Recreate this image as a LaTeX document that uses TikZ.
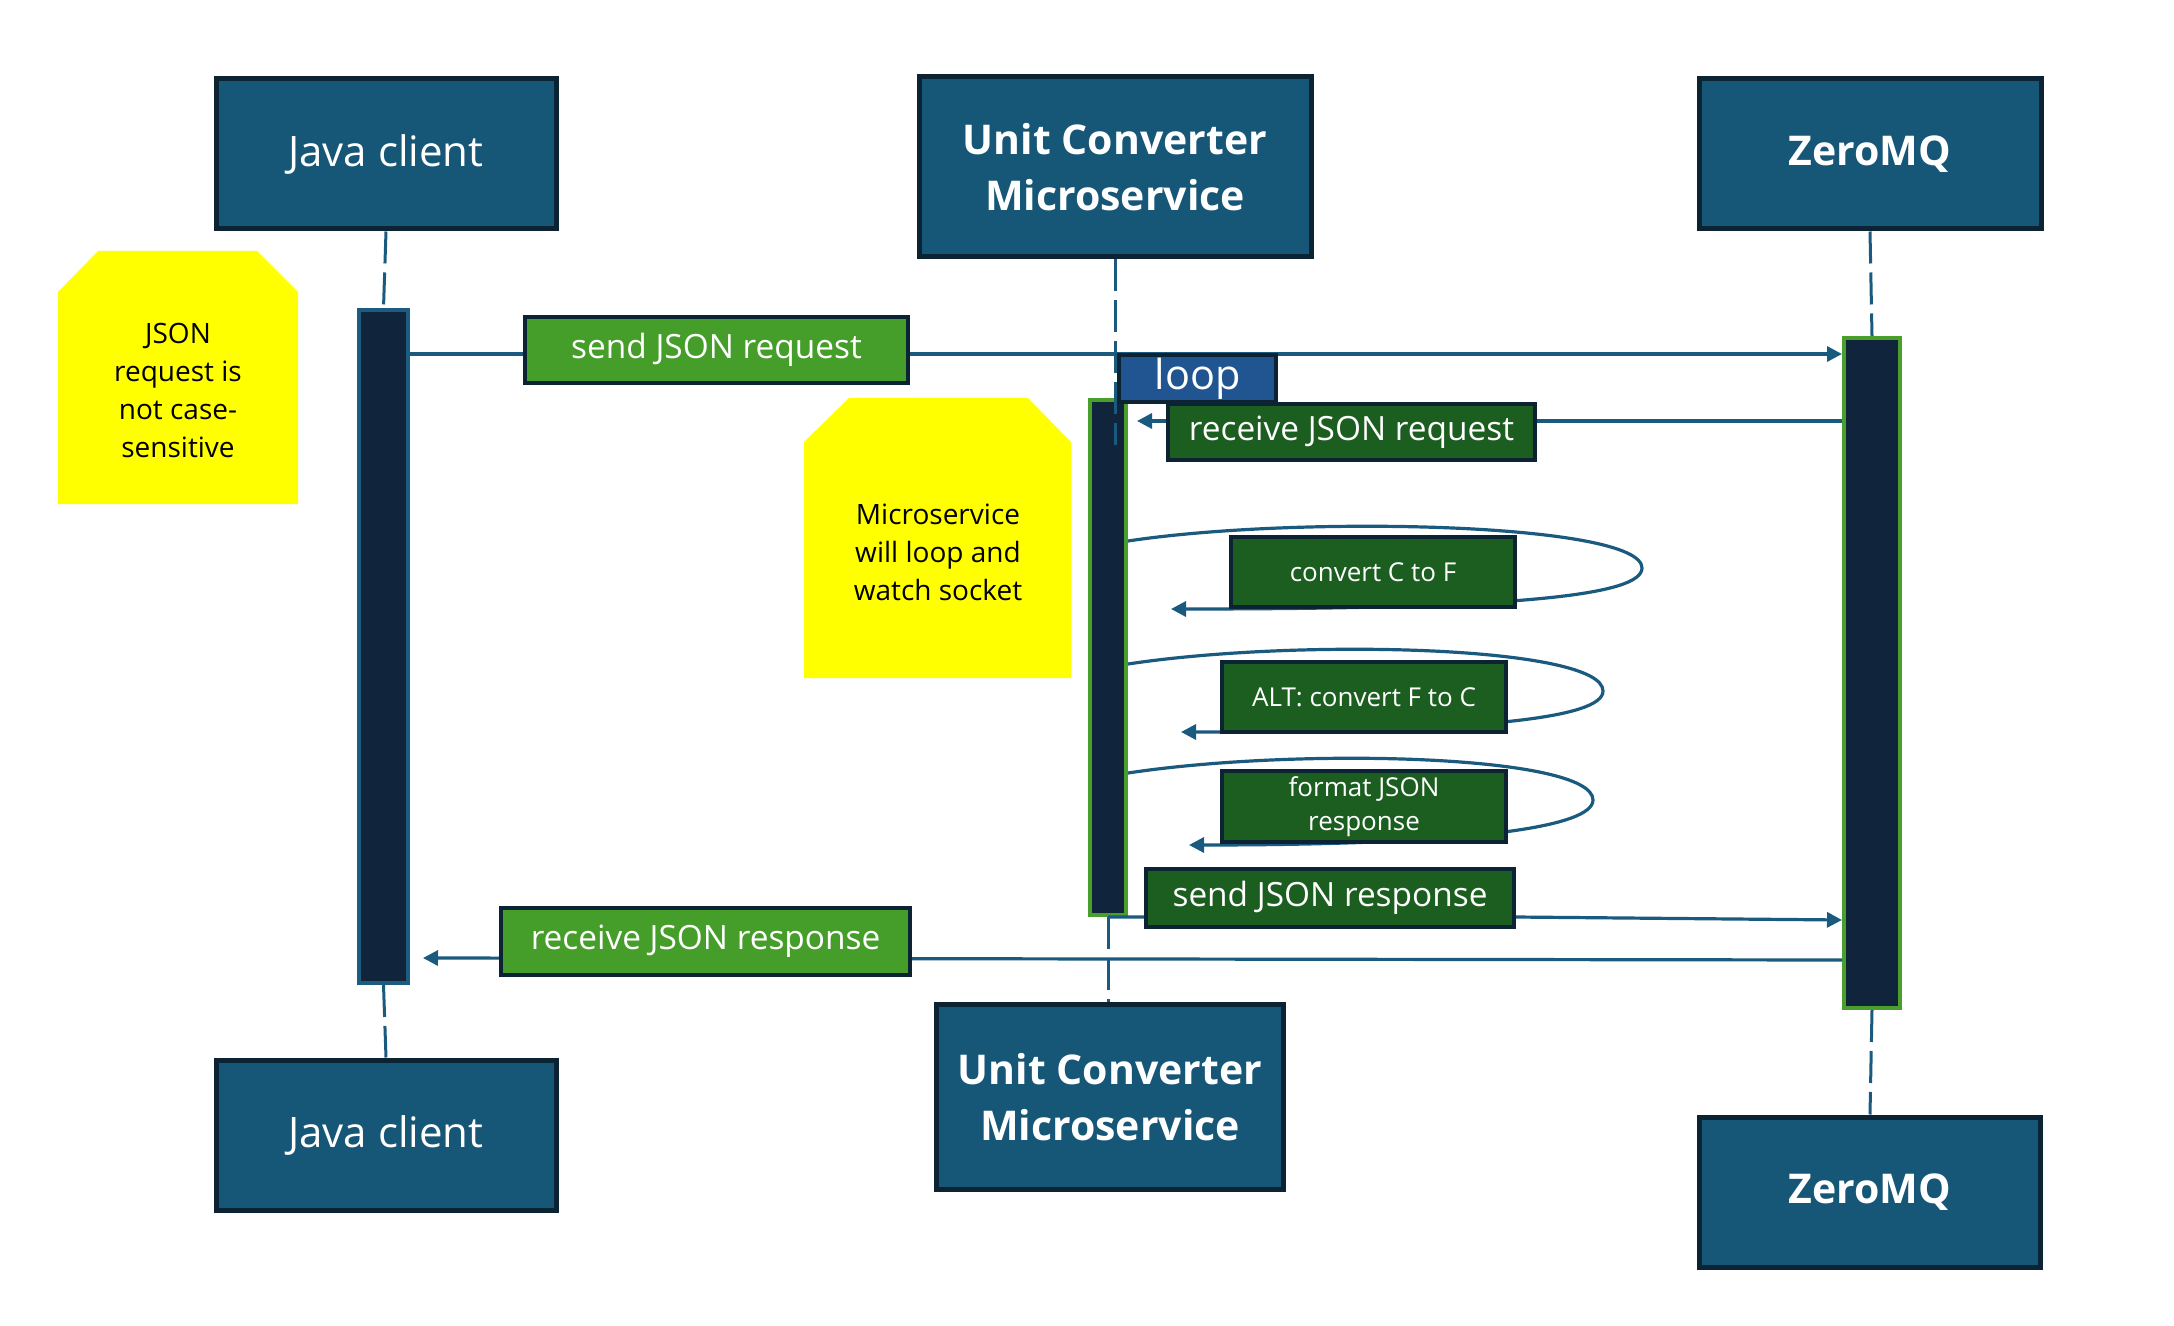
\documentclass[tikz,border=0pt]{standalone}
\usepackage{fontspec}
\setmainfont{Open Sans}
\usetikzlibrary{arrows.meta}
\definecolor{actorblue}{HTML}{165676}
\definecolor{actorline}{HTML}{0C2333}
\definecolor{barfill}{HTML}{10253C}
\definecolor{bargreen}{HTML}{4A9E2C}
\definecolor{barblue}{HTML}{1D5B80}
\definecolor{lightgreen}{HTML}{469E2A}
\definecolor{darkgreen}{HTML}{1B5E20}
\definecolor{loopblue}{HTML}{205592}
\definecolor{msgblue}{HTML}{1A5A7E}
\definecolor{noteyellow}{HTML}{FFFF00}
\tikzset{
  actor/.style={draw=actorline, line width=2.5pt, fill=actorblue, text=white,
    align=center, inner sep=0pt, font=\fontsize{21}{28}\selectfont},
  boldactor/.style={actor, font=\fontsize{20.5}{28}\selectfont\bfseries},
  bar/.style={draw=bargreen, line width=2pt, fill=barfill, inner sep=0pt},
  msgbox/.style={draw=actorline, line width=2pt, fill=darkgreen, text=white,
    align=center, inner sep=0pt, font=\fontsize{16.7}{20}\selectfont},
  msglight/.style={msgbox, fill=lightgreen},
  msgsmall/.style={msgbox, font=\fontsize{13}{16.7}\selectfont},
  note/.style={fill=noteyellow},
  notetext/.style={align=center, font=\fontsize{14}{19}\selectfont},
  lifeline/.style={draw=msgblue, line width=1.5pt, dash pattern=on 16pt off 4.5pt},
  msgline/.style={draw=msgblue, line width=1.6pt, -{Triangle[length=7.5pt,width=7.5pt]}},
}
\begin{document}
\begin{tikzpicture}[x=0.5pt,y=-0.5pt]
\useasboundingbox (0,0) rectangle (2174,1326);
% actors
\node[actor, minimum width=170pt, minimum height=75pt] (jtop) at (386,154) {Java client};
\node[boldactor, minimum width=196pt, minimum height=90pt] (utop) at (1115,167) {Unit Converter\\Microservice};
\node[boldactor, minimum width=171pt, minimum height=75pt] (ztop) at (1870,154) {ZeroMQ};
\node[actor, minimum width=170pt, minimum height=75pt] (jbot) at (386,1135) {Java client};
\node[boldactor, minimum width=173.5pt, minimum height=92.5pt] (ubot) at (1110,1097) {Unit Converter\\Microservice};
\node[boldactor, minimum width=170.5pt, minimum height=75pt] (zbot) at (1870,1192) {ZeroMQ};
% notes
\fill[note] (58,504) -- (58,292) -- (98,251) -- (257,251) -- (298,292) -- (298,504) -- cycle;
\node[notetext] (note1) at (178,390) {JSON\\request is\\not case-\\sensitive};
\fill[note] (804,678) -- (804,442) -- (849,398) -- (1028,398) -- (1071,442) -- (1071,678) -- cycle;
\node[notetext] (note2) at (938,552) {Microservice\\will loop and\\watch socket};
% activation bars
\node[bar, draw=barblue, minimum width=24.5pt, minimum height=336.5pt] (jbar) at (383.5,646.5) {};
\node[bar, minimum width=18pt, minimum height=257.5pt] (ubar) at (1108,657.5) {};
\node[bar, minimum width=28pt, minimum height=335pt] (zbar) at (1872,673) {};
% lifelines
\foreach \a/\b in {jtop/jbar, ztop/zbar, jbar/jbot, zbar/zbot}
  \draw[lifeline] (\a.south) -- (\b.north);
\draw[lifeline] (utop.south) -- (utop.south |- 0,445);
\draw[lifeline] (ubar.south) -- (ubar.south |- ubot.north);
% messages
\coordinate (rrend) at (1137,421);
\coordinate (rpend) at (423,958);
\draw[msgline] (jbar.east |- 0,354) -- (zbar.west |- 0,354);
\draw[msgline] (zbar.west |- rrend) -- (rrend);
\draw[msgline] (ubar.south) -- (1515,917) -- (zbar.west |- 0,920);
\draw[msgline] (zbar.west |- 0,960) -- (rpend);
% self loops
\foreach \s/\r/\m/\t/\e in {541/1642/568/1171/609, 664/1603/691/1181/732, 773/1593/800/1189/845}
  \draw[msgline] (ubar.east |- 0,\s) .. controls (1300,\s-26) and (\r,\s-18) .. (\r,\m)
    .. controls (\r,\m+27) and (\r-120,\e) .. (\t,\e);
% labels
\node[msglight, minimum width=191.5pt, minimum height=33pt] (sendreq) at (716.5,350) {send JSON request};
\node[msgbox, fill=loopblue, minimum width=78.5pt, minimum height=23.5pt,
  font=\fontsize{20.7}{24}\selectfont] (loop) at (1197.5,378.5) {loop};
\node[msgbox, minimum width=183.5pt, minimum height=28pt] (recvreq) at (1351.5,432) {receive JSON request};
\node[msgsmall, minimum width=142pt, minimum height=35pt] (c2f) at (1373,572) {convert C to F};
\node[msgsmall, minimum width=142pt, minimum height=35pt] (f2c) at (1364,697) {ALT: convert F to C};
\node[msgsmall, minimum width=142pt, minimum height=35.5pt] (fmt) at (1364,806.5) {format JSON\\response};
\node[msgbox, minimum width=184pt, minimum height=29pt] (sendresp) at (1330,898) {send JSON response};
\node[msglight, minimum width=204.5pt, minimum height=33.5pt] (recvresp) at (705.5,941.5) {receive JSON response};
\end{tikzpicture}
\end{document}
